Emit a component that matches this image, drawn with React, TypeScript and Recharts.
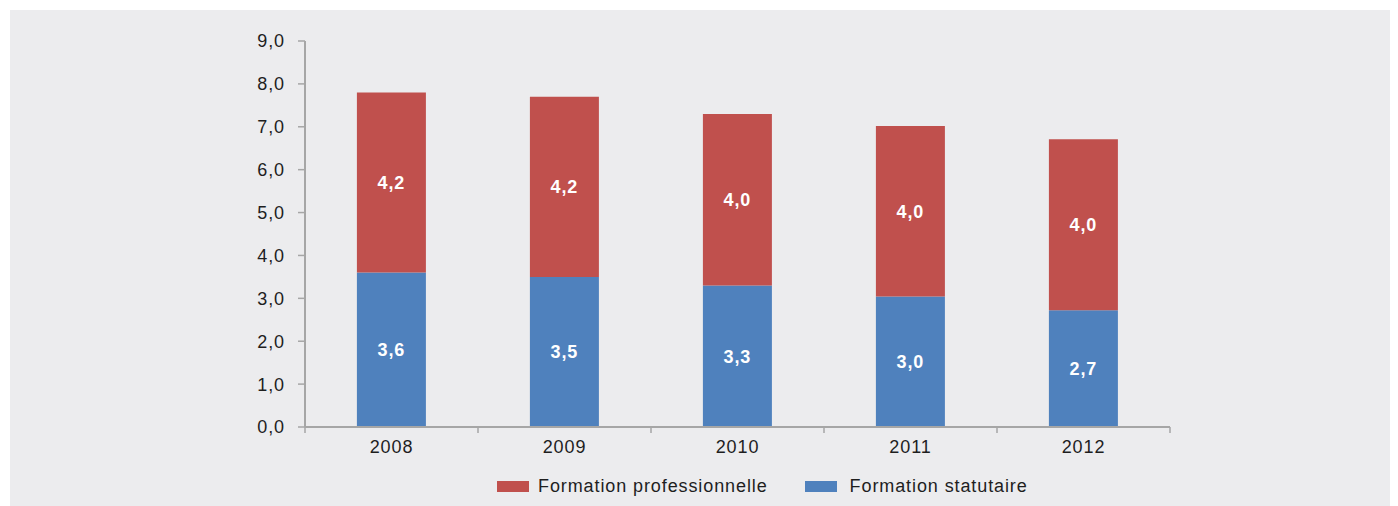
import React from "react";
import { BarChart, Bar, XAxis, YAxis, LabelList, Legend } from "recharts";

const categories = ["2008", "2009", "2010", "2011", "2012"];
const statutaire = [3.6, 3.5, 3.3, 3.04, 2.72];
const professionnelle = [4.2, 4.2, 4.0, 3.98, 3.99];
const yTicks = [0, 1, 2, 3, 4, 5, 6, 7, 8, 9];
const seriesNames = { pro: "Formation professionnelle", stat: "Formation statutaire" };

const RED = "#c0504d";
const BLUE = "#4f81bd";
const AXIS = "#a6a6a6";
const TEXT = "#1e1e1e";
const FONT = "'Liberation Sans', Arial, sans-serif";

const CHART_W = 1380;
const CHART_H = 496;
const MARGIN = { top: 31, right: 220, left: 235, bottom: 8 };
const Y_W = 60;
const TICK_MARGIN = 13;
const PLOT_W = CHART_W - MARGIN.left - MARGIN.right - Y_W;

const data = categories.map((c, i) => ({
  year: c,
  stat: statutaire[i],
  pro: professionnelle[i],
}));

const fmt = (v: number) => Number(v).toFixed(1).replace(".", ",");

const CategoryTick = (props: any) => {
  const { x, y, payload, index } = props;
  const hb = PLOT_W / categories.length / 2;
  const axisY = y - TICK_MARGIN;
  const last = index === categories.length - 1;
  return (
    <g>
      <line x1={x - hb} x2={x - hb} y1={axisY} y2={axisY + 6} stroke={AXIS} strokeWidth={1.5} />
      {last && <line x1={x + hb} x2={x + hb} y1={axisY} y2={axisY + 6} stroke={AXIS} strokeWidth={1.5} />}
      <text x={x} y={y} dy="0.71em" textAnchor="middle" fill={TEXT} fontSize={18} letterSpacing={0.9}>
        {payload.value}
      </text>
    </g>
  );
};

const LegendContent = () => (
  <div
    style={{
      display: "flex",
      alignItems: "center",
      marginLeft: 487,
      fontFamily: FONT,
      fontSize: 18,
      letterSpacing: 0.9,
      color: TEXT,
      height: 24,
    }}
  >
    <span style={{ display: "inline-block", width: 32, height: 11, background: RED, marginRight: 9 }} />
    <span style={{ marginRight: 37 }}>{seriesNames.pro}</span>
    <span style={{ display: "inline-block", width: 32, height: 11, background: BLUE, marginRight: 13 }} />
    <span>{seriesNames.stat}</span>
  </div>
);

export default function App() {
  return (
    <div style={{ margin: 2, width: CHART_W, height: CHART_H, background: "#ececee", position: "relative" }}>
      <BarChart
        width={CHART_W}
        height={CHART_H}
        data={data}
        margin={MARGIN}
        barCategoryGap="30%"
        style={{ fontFamily: FONT }}
      >
        <XAxis
          dataKey="year"
          axisLine={{ stroke: AXIS, strokeWidth: 2 }}
          tickLine={false}
          tickSize={0}
          tickMargin={TICK_MARGIN}
          height={47}
          interval={0}
          tick={<CategoryTick />}
        />
        <YAxis
          domain={[0, 9]}
          ticks={yTicks}
          interval={0}
          tickFormatter={fmt}
          width={Y_W}
          tickSize={7}
          tickMargin={13}
          axisLine={{ stroke: AXIS, strokeWidth: 2 }}
          tickLine={{ stroke: AXIS, strokeWidth: 1.5 }}
          tick={{ fill: TEXT, fontSize: 18, letterSpacing: 0.9 }}
        />
        <Legend verticalAlign="bottom" height={24} content={<LegendContent />} wrapperStyle={{ left: 0, width: CHART_W }} />
        <Bar dataKey="stat" stackId="a" fill={BLUE} isAnimationActive={false} name={seriesNames.stat}>
          <LabelList
            dataKey="stat"
            position="center"
            formatter={fmt}
            fill="#ffffff"
            style={{ fontWeight: "bold", fontSize: 18, letterSpacing: 0.9 }}
          />
        </Bar>
        <Bar dataKey="pro" stackId="a" fill={RED} isAnimationActive={false} name={seriesNames.pro}>
          <LabelList
            dataKey="pro"
            position="center"
            formatter={fmt}
            fill="#ffffff"
            style={{ fontWeight: "bold", fontSize: 18, letterSpacing: 0.9 }}
          />
        </Bar>
      </BarChart>
    </div>
  );
}
